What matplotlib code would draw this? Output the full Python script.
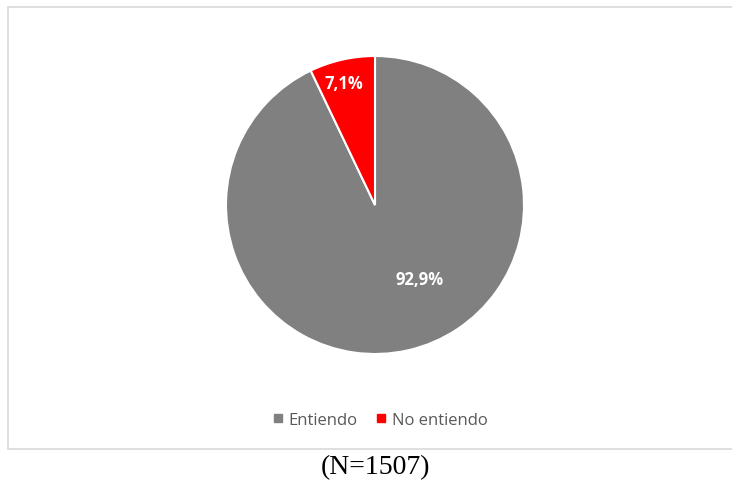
import matplotlib
matplotlib.use("Agg")
import matplotlib.pyplot as plt
from matplotlib.patches import Rectangle
import numpy as np

categories = ["Entiendo", "No entiendo"]
values = [92.9, 7.1]
labels = ["92,9%", "7,1%"]
colors = ["#808080", "#ff0000"]
caption = "(N=1507)"

W, H = 732, 481
fig = plt.figure(figsize=(W / 100, H / 100), dpi=100)
fig.patch.set_facecolor("white")

# chart border
fig.add_artist(Rectangle((8 / W, (H - 450) / H), (W - 7) / W, (450 - 8) / H,
                         transform=fig.transFigure, fill=False,
                         edgecolor="#d9d9d9", linewidth=1.2))

cx, cy, r = 375, 206, 149
ax = fig.add_axes([(cx - r) / W, (H - cy - r) / H, 2 * r / W, 2 * r / H])
wedges, _ = ax.pie(values, colors=colors, startangle=90, counterclock=False,
                   wedgeprops=dict(edgecolor="white", linewidth=1.5), radius=1)
ax.set_xlim(-1, 1)
ax.set_ylim(-1, 1)
ax.set_aspect("equal")
ax.axis("off")

label_pos = [(0.30, -0.50), (-0.21, 0.82)]
for (x, y), t in zip(label_pos, labels):
    ax.text(x, y, t, ha="center", va="center", color="white",
            fontsize=12, fontweight="bold", family=["Open Sans", "DejaVu Sans"])

handles = [plt.Line2D([], [], marker="s", linestyle="none", markersize=5.5,
                      markerfacecolor=c, markeredgecolor=c) for c in colors]
fig.legend(handles, categories, loc="center", bbox_to_anchor=(380 / W, (H - 421) / H),
           ncol=2, frameon=False, handletextpad=0.35, columnspacing=1.1,
           handlelength=0.6,
           prop=dict(family=["Open Sans", "DejaVu Sans"], size=12),
           labelcolor="#595959")

fig.text(376 / W, (H - 468) / H, caption, ha="center", va="center",
         fontsize=20, family=["Liberation Serif", "DejaVu Serif"], color="black")

fig.savefig("out.png", dpi=100)
